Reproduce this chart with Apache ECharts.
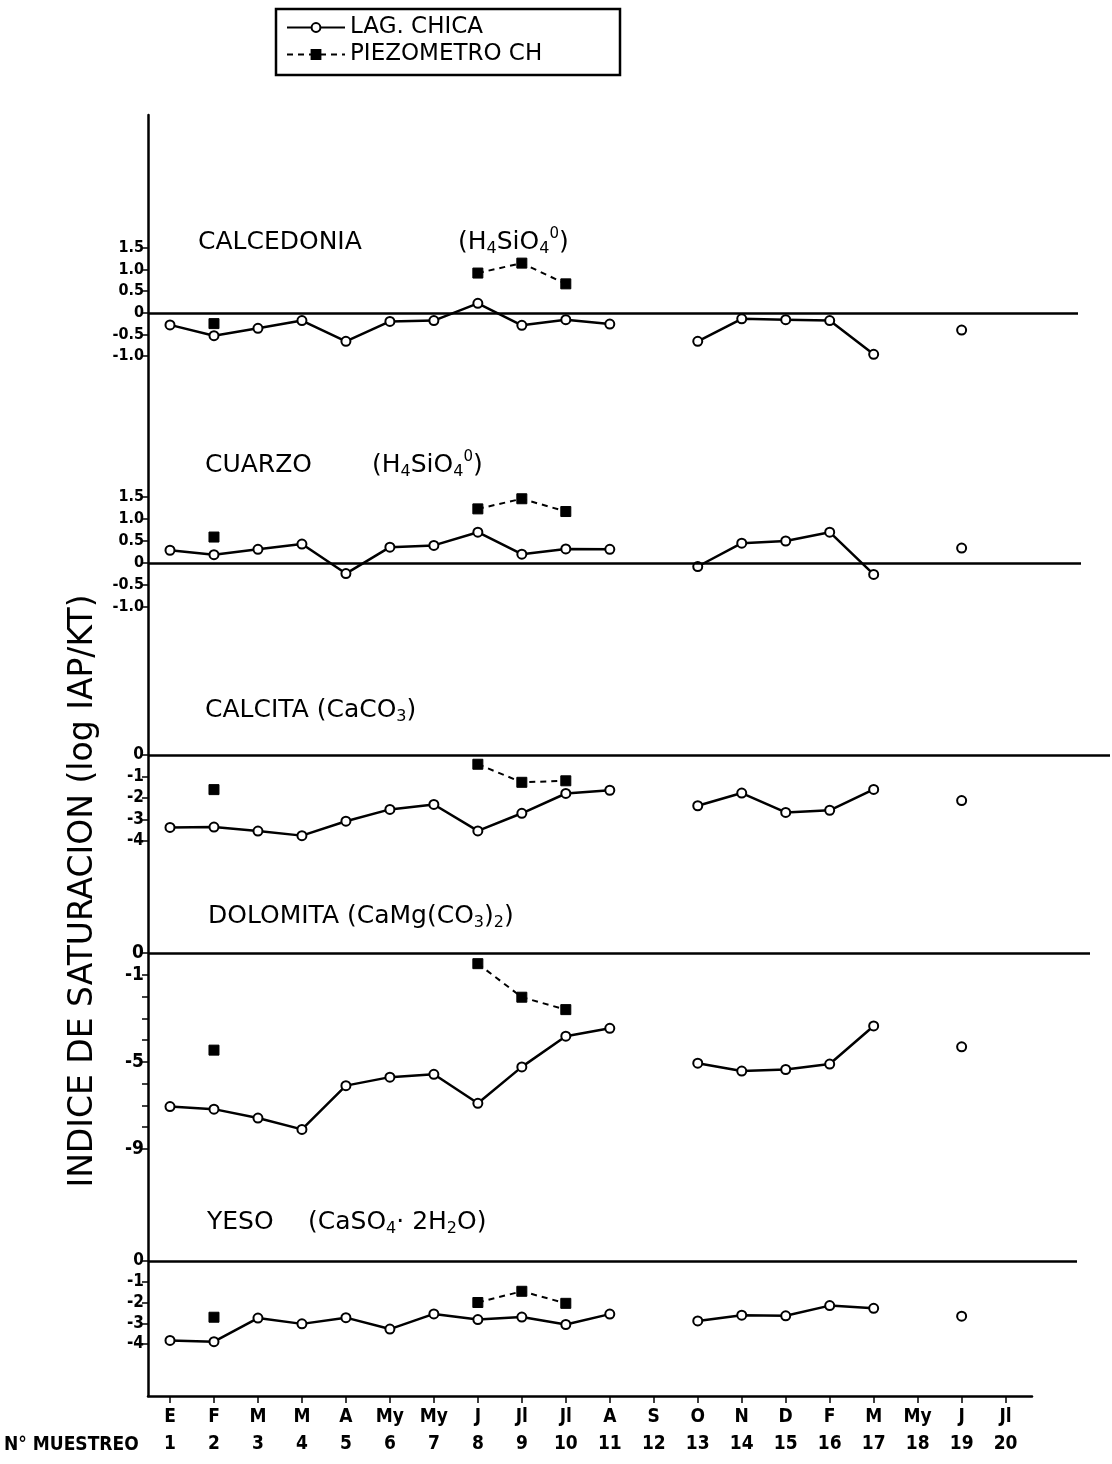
<!DOCTYPE html>
<html>
<head>
<meta charset="utf-8">
<script src="https://cdn.jsdelivr.net/npm/echarts@6/dist/echarts.min.js"></script>
<style>
  html, body { margin: 0; padding: 0; background: #fff; }
  #chart { width: 1112px; height: 1464px; }
</style>
</head>
<body>
<div id="chart"></div>
<script>
// ---------------- DATA ----------------
const samples = [1, 2, 3, 4, 5, 6, 7, 8, 9, 10, 11, 12, 13, 14, 15, 16, 17, 18, 19, 20];
const months = ['E', 'F', 'M', 'M', 'A', 'My', 'My', 'J', 'Jl', 'Jl', 'A', 'S', 'O', 'N', 'D', 'F', 'M', 'My', 'J', 'Jl'];
const seriesNames = ['LAG. CHICA', 'PIEZOMETRO CH'];

const calcedoniaLag   = [-0.28, -0.53, -0.36, -0.18, -0.66, -0.20, -0.18, 0.22, -0.29, -0.16, -0.26, null, -0.66, -0.14, -0.16, -0.18, -0.96, null, -0.40, null];
const calcedoniaPiezo = [null, -0.25, null, null, null, null, null, 0.92, 1.15, 0.67, null, null, null, null, null, null, null, null, null, null];

const cuarzoLag   = [0.29, 0.19, 0.31, 0.43, -0.24, 0.36, 0.40, 0.70, 0.20, 0.32, 0.31, null, -0.08, 0.45, 0.50, 0.70, -0.26, null, 0.34, null];
const cuarzoPiezo = [null, 0.59, null, null, null, null, null, 1.23, 1.46, 1.17, null, null, null, null, null, null, null, null, null, null];

const calcitaLag   = [-3.37, -3.35, -3.54, -3.75, -3.08, -2.53, -2.30, -3.53, -2.71, -1.79, -1.64, null, -2.36, -1.77, -2.67, -2.57, -1.60, null, -2.12, null];
const calcitaPiezo = [null, -1.61, null, null, null, null, null, -0.43, -1.27, -1.20, null, null, null, null, null, null, null, null, null, null];

const dolomitaLag   = [-7.05, -7.17, -7.58, -8.10, -6.09, -5.70, -5.57, -6.90, -5.23, -3.82, -3.46, null, -5.06, -5.42, -5.35, -5.10, -3.35, null, -4.31, null];
const dolomitaPiezo = [null, -4.46, null, null, null, null, null, -0.49, -2.03, -2.60, null, null, null, null, null, null, null, null, null, null];

const yesoLag   = [-3.83, -3.89, -2.75, -3.03, -2.73, -3.28, -2.55, -2.82, -2.70, -3.06, -2.56, null, -2.89, -2.61, -2.64, -2.15, -2.28, null, -2.66, null];
const yesoPiezo = [null, -2.71, null, null, null, null, null, -2.00, -1.46, -2.04, null, null, null, null, null, null, null, null, null, null];

// y tick ranges per panel
const calcedoniaTicks = [-1.0, 1.5];
const cuarzoTicks = [-1.0, 1.5];
const calcitaTicks = [-4, 0];
const dolomitaTicks = [-9, 0];
const dolomitaLabelled = [0, -1, -5, -9];
const yesoTicks = [-4, 0];

// ---------------- LAYOUT ----------------
const FONT = '"DejaVu Sans", "Liberation Sans", sans-serif';
const FONT_C = '"DejaVu Sans Condensed", "Liberation Sans Narrow", "DejaVu Sans", sans-serif';
const LEFT = 148, AXIS_RIGHT = 1032, XMIN = 0.5, XMAX = 20.6;
const pxPerUnit = (AXIS_RIGHT - LEFT) / (XMAX - XMIN);
const xmaxFor = right => XMIN + (right - LEFT) / pxPerUnit;

const panels = [
  { lag: calcedoniaLag, piezo: calcedoniaPiezo, range: calcedoniaTicks, interval: 0.5, top: 248, height: 108, right: 1078, fs: 16,
    fmt: v => (v === 0 ? '0' : v.toFixed(1)) },
  { lag: cuarzoLag, piezo: cuarzoPiezo, range: cuarzoTicks, interval: 0.5, top: 497, height: 110, right: 1081, fs: 16,
    fmt: v => (v === 0 ? '0' : v.toFixed(1)) },
  { lag: calcitaLag, piezo: calcitaPiezo, range: calcitaTicks, interval: 1, top: 755, height: 86, right: 1110, fs: 17,
    fmt: v => String(v) },
  { lag: dolomitaLag, piezo: dolomitaPiezo, range: dolomitaTicks, interval: 1, top: 953, height: 196, right: 1090, fs: 19,
    fmt: v => (dolomitaLabelled.indexOf(v) >= 0 ? String(v) : '') },
  { lag: yesoLag, piezo: yesoPiezo, range: yesoTicks, interval: 1, top: 1261, height: 83, right: 1077, fs: 17,
    fmt: v => String(v) }
];

const pts = vals => samples.map((s, i) => [s, vals[i]]);

const grid = [], xAxis = [], yAxis = [], series = [];
panels.forEach((p, k) => {
  grid.push({ left: LEFT, top: p.top, width: p.right - LEFT, height: p.height, outerBoundsMode: 'none', containLabel: false });
  xAxis.push({ type: 'value', gridIndex: k, min: XMIN, max: xmaxFor(p.right), show: false });
  yAxis.push({
    type: 'value', gridIndex: k, min: p.range[0], max: p.range[1], interval: p.interval,
    axisLine: { show: false },
    axisTick: { show: true, length: 6, lineStyle: { color: '#000', width: 1.5 } },
    axisLabel: { show: true, margin: 4, color: '#000', fontFamily: FONT_C, fontWeight: 'bold', fontSize: p.fs, formatter: p.fmt },
    splitLine: { show: false }
  });
  series.push({
    type: 'line', name: seriesNames[0], xAxisIndex: k, yAxisIndex: k, data: pts(p.lag),
    symbol: 'circle', symbolSize: 9, showSymbol: true, connectNulls: false, clip: false, z: 4,
    itemStyle: { color: '#fff', borderColor: '#000', borderWidth: 2 },
    lineStyle: { color: '#000', width: 2.5 },
    markLine: {
      silent: true, symbol: ['none', 'none'], label: { show: false }, animation: false,
      lineStyle: { color: '#000', width: 2.5, type: 'solid' },
      data: [{ yAxis: 0 }]
    }
  });
  series.push({
    type: 'line', name: seriesNames[1], xAxisIndex: k, yAxisIndex: k, data: pts(p.piezo),
    symbol: 'rect', symbolSize: 10, showSymbol: true, connectNulls: false, clip: false, z: 5,
    itemStyle: { color: '#000', borderColor: '#000', borderWidth: 1 },
    lineStyle: { color: '#000', width: 2, type: [6, 5] }
  });
});

// full-height frame grid: main y axis line + bottom sample axis
grid.push({ left: LEFT, top: 115, width: AXIS_RIGHT - LEFT, height: 1281, outerBoundsMode: 'none', containLabel: false });
xAxis.push({
  type: 'value', gridIndex: 5, min: XMIN, max: XMAX,
  axisLine: { show: true, onZero: false, lineStyle: { color: '#000', width: 2.5 } },
  axisTick: { show: true, customValues: samples, length: 7, lineStyle: { color: '#000', width: 1.5 } },
  axisLabel: {
    show: true, customValues: samples, margin: 8, color: '#000', fontFamily: FONT_C, fontWeight: 'bold',
    fontSize: 19, lineHeight: 27, formatter: v => months[v - 1] + '\n' + v
  },
  splitLine: { show: false }
});
yAxis.push({
  type: 'value', gridIndex: 5, min: 0, max: 1,
  axisLine: { show: true, onZero: false, lineStyle: { color: '#000', width: 2.5 } },
  axisTick: { show: false }, axisLabel: { show: false }, splitLine: { show: false }
});

// panel titles (rich text: sub/superscripts)
const base = { fontFamily: FONT, fontSize: 25, color: '#000', lineHeight: 30 };
const rich = {
  n: Object.assign({}, base),
  f: Object.assign({}, base),
  s: { fontFamily: FONT, fontSize: 16, color: '#000', lineHeight: 12, verticalAlign: 'bottom' },
  p: { fontFamily: FONT, fontSize: 15, color: '#000', lineHeight: 12, verticalAlign: 'top' },
  w1: Object.assign({}, base, { width: 260 }),
  w2: Object.assign({}, base, { width: 167 }),
  w3: Object.assign({}, base, { width: 101 })
};
const mkTitle = (left, cy, text) => ({
  left: left, top: cy - 15, padding: 0, text: text,
  textStyle: { rich: rich, fontFamily: FONT, fontSize: 25, fontWeight: 'normal', color: '#000', lineHeight: 30 }
});
const titles = [
  mkTitle(198, 242, '{w1|CALCEDONIA}{f|(H}{s|4}{f|SiO}{s|4}{p|0}{f|)}'),
  mkTitle(205, 465, '{w2|CUARZO}{f|(H}{s|4}{f|SiO}{s|4}{p|0}{f|)}'),
  mkTitle(205, 710, '{n|CALCITA (CaCO}{s|3}{n|)}'),
  mkTitle(208, 916, '{n|DOLOMITA (CaMg(CO}{s|3}{n|)}{s|2}{n|)}'),
  mkTitle(207, 1222, '{w3|YESO}{f|(CaSO}{s|4}{f|· 2H}{s|2}{f|O)}')
];

const option = {
  animation: false,
  backgroundColor: '#fff',
  title: titles,
  legend: {
    orient: 'vertical', left: 286, top: 16, padding: 0, itemGap: 4,
    itemWidth: 58, itemHeight: 11,
    data: seriesNames,
    textStyle: { fontFamily: FONT, fontSize: 23, color: '#000' }
  },
  graphic: [
    { type: 'rect', silent: true, shape: { x: 276, y: 9, width: 344, height: 66 },
      style: { fill: 'none', stroke: '#000', lineWidth: 2.5 } },
    { type: 'text', silent: true, x: 4, y: 1445,
      style: { text: 'N° MUESTREO', fontFamily: FONT_C, fontWeight: 'bold', fontSize: 19, fill: '#000', textVerticalAlign: 'middle' } },
    { type: 'text', silent: true, x: 83, y: 891, rotation: Math.PI / 2,
      style: { text: 'INDICE DE SATURACION (log IAP/KT)', fontFamily: FONT, fontSize: 33, fill: '#000',
               textAlign: 'center', textVerticalAlign: 'middle' } }
  ],
  grid: grid,
  xAxis: xAxis,
  yAxis: yAxis,
  series: series
};

const chart = echarts.init(document.getElementById('chart'), null, { renderer: 'canvas' });
chart.setOption(option);
</script>
</body>
</html>
